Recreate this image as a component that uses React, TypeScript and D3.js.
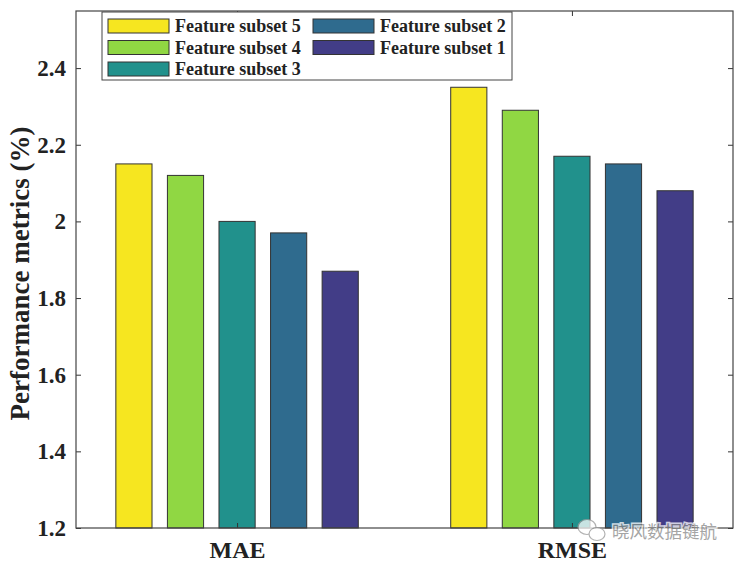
import { scaleLinear, select, axisLeft, axisRight, axisTop, axisBottom } from "d3";
import { useEffect, useRef } from "react";

const metrics = ["MAE", "RMSE"];
const subsets = ["Feature subset 5", "Feature subset 4", "Feature subset 3", "Feature subset 2", "Feature subset 1"];
const values = [
  [2.15, 2.35],
  [2.12, 2.29],
  [2.0, 2.17],
  [1.97, 2.15],
  [1.87, 2.08],
];
const yTicks = [1.2, 1.4, 1.6, 1.8, 2, 2.2, 2.4];
const colors = ["#f6e620", "#90d743", "#21918c", "#2f6b8e", "#423d87"];

const W = 742;
const H = 564;
// axes box in pixels
const BOX = { left: 76, right: 733, top: 11, bottom: 528 };
const FONT = "'Liberation Serif', 'Times New Roman', serif";

const App = () => {
  const svgElem = useRef<SVGSVGElement>(null);

  useEffect(() => {
    if (!svgElem.current) return;
    const svg = select(svgElem.current);
    svg.selectAll("*").remove();

    const x = scaleLinear().domain([0.519, 2.481]).range([BOX.left, BOX.right]);
    const y = scaleLinear().domain([1.2, 2.549]).range([BOX.bottom, BOX.top]);

    const step = 0.154;
    const barW = 0.108;

    // bars
    const g = svg.append("g");
    subsets.forEach((_, i) => {
      metrics.forEach((_m, j) => {
        const cx = j + 1 + (i - 2) * step;
        g.append("rect")
          .attr("x", x(cx - barW / 2))
          .attr("width", x(cx + barW / 2) - x(cx - barW / 2))
          .attr("y", y(values[i][j]))
          .attr("height", y(1.2) - y(values[i][j]))
          .attr("fill", colors[i])
          .attr("stroke", "#333")
          .attr("stroke-width", 1);
      });
    });

    // axes
    const tickFmt = (d: any) => String(d);
    const yl = svg.append("g").attr("transform", `translate(${BOX.left},0)`)
      .call(axisLeft(y).tickValues(yTicks).tickSizeInner(-5).tickSizeOuter(0).tickPadding(10).tickFormat(tickFmt));
    const yr = svg.append("g").attr("transform", `translate(${BOX.right},0)`)
      .call(axisRight(y).tickValues(yTicks).tickSizeInner(-5).tickSizeOuter(0).tickFormat(() => ""));
    const xb = svg.append("g").attr("transform", `translate(0,${BOX.bottom})`)
      .call(axisBottom(x).tickValues([1, 2]).tickSizeInner(-5).tickSizeOuter(0).tickFormat((d: any) => metrics[d - 1]));
    const xt = svg.append("g").attr("transform", `translate(0,${BOX.top})`)
      .call(axisTop(x).tickValues([1, 2]).tickSizeInner(-5).tickSizeOuter(0).tickFormat(() => ""));
    [yl, yr, xb, xt].forEach((a) => {
      a.select(".domain").remove();
      a.selectAll("line").attr("stroke", "#333");
      a.selectAll("text")
        .attr("fill", "#222")
        .style("font-family", FONT)
        .style("font-weight", "bold")
        .style("font-size", "23px");
    });
    // keep the category labels inside the picture
    xb.selectAll("text").attr("y", 30).attr("dy", "0").style("font-size", "24px");

    svg.append("rect")
      .attr("x", BOX.left)
      .attr("y", BOX.top)
      .attr("width", BOX.right - BOX.left)
      .attr("height", BOX.bottom - BOX.top)
      .attr("fill", "none")
      .attr("stroke", "#444")
      .attr("stroke-width", 1.2);

    // y label
    svg.append("text")
      .attr("transform", `translate(29, ${(BOX.top + BOX.bottom) / 2 + 4}) rotate(-90)`)
      .attr("text-anchor", "middle")
      .style("font-family", FONT)
      .style("font-weight", "bold")
      .style("font-size", "27px")
      .attr("fill", "#222")
      .text("Performance metrics (%)");

    // legend
    const lg = svg.append("g");
    lg.append("rect")
      .attr("x", 102).attr("y", 12).attr("width", 410).attr("height", 68)
      .attr("fill", "white").attr("stroke", "#444").attr("stroke-width", 1);
    subsets.forEach((s, i) => {
      const col = i < 3 ? 0 : 1;
      const row = i < 3 ? i : i - 3;
      const lx = col === 0 ? 108 : 313;
      const ly = 26 + row * 21.5;
      lg.append("rect")
        .attr("x", lx).attr("y", ly - 7).attr("width", 61).attr("height", 14)
        .attr("fill", colors[i]).attr("stroke", "#333").attr("stroke-width", 1);
      lg.append("text")
        .attr("x", lx + 67).attr("y", ly)
        .attr("dy", "0.35em")
        .style("font-family", FONT)
        .style("font-weight", "bold")
        .style("font-size", "18px")
        .attr("fill", "#222")
        .text(s);
    });

    // watermark
    const wm = svg.append("g").attr("opacity", 0.75);
    wm.append("ellipse").attr("cx", 587).attr("cy", 527).attr("rx", 9).attr("ry", 7.5)
      .attr("fill", "white").attr("stroke", "#999").attr("stroke-width", 1.2);
    wm.append("ellipse").attr("cx", 597).attr("cy", 534).attr("rx", 8).attr("ry", 6.5)
      .attr("fill", "white").attr("stroke", "#999").attr("stroke-width", 1.2);
    wm.append("text")
      .attr("x", 612).attr("y", 532)
      .attr("dy", "0.35em")
      .style("font-family", "'Noto Sans CJK SC', sans-serif")
      .style("font-size", "17.5px")
      .attr("fill", "#888")
      .attr("stroke", "white")
      .attr("stroke-width", 3)
      .attr("paint-order", "stroke")
      .text("晓风数据键航");
  }, []);

  return (
    <svg
      ref={svgElem}
      width={W}
      height={H}
      style={{ position: "absolute", left: 0, top: 0, background: "white" }}
    />
  );
};

export default App;
